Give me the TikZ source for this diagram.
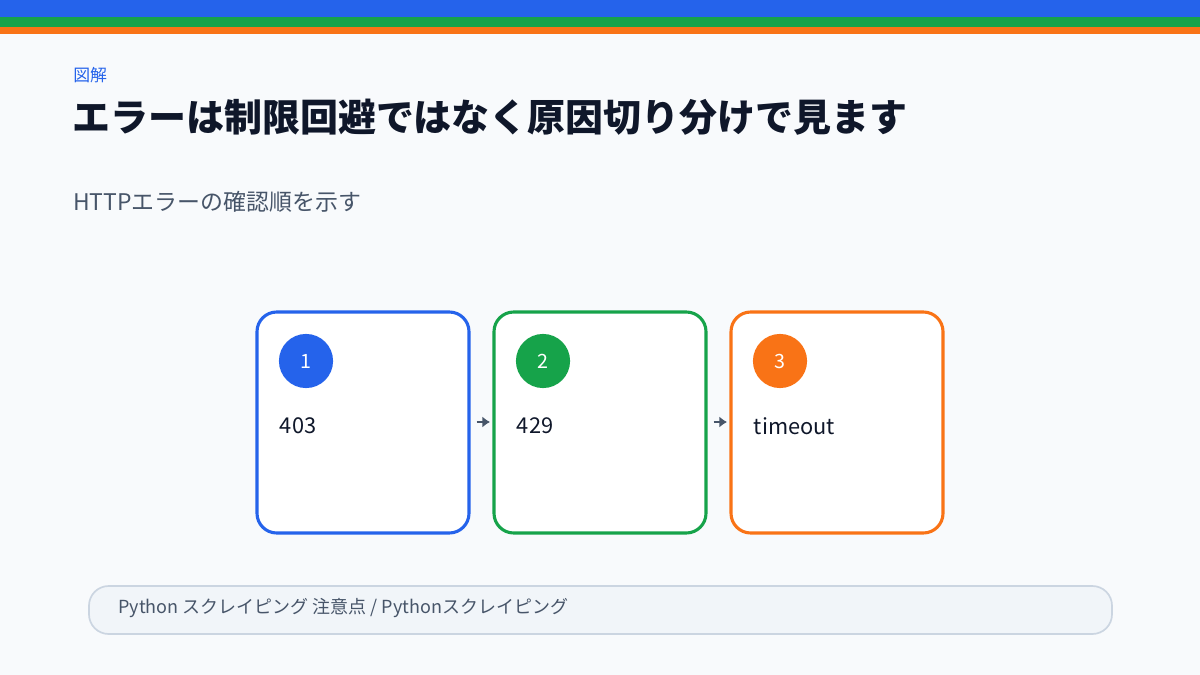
\documentclass[tikz,border=0pt]{standalone}
\usepackage{fontspec}
\setmainfont{Noto Sans CJK JP}
\usetikzlibrary{arrows.meta}
\usetikzlibrary{positioning}

\definecolor{bgcol}{HTML}{F8FAFC}
\definecolor{bluecol}{HTML}{2563EB}
\definecolor{greencol}{HTML}{16A34A}
\definecolor{orangecol}{HTML}{F97316}
\definecolor{inkcol}{HTML}{0F172A}
\definecolor{graycol}{HTML}{475569}
\definecolor{notecol}{HTML}{F1F5F9}
\definecolor{linecol}{HTML}{CBD5E1}

\begin{document}
\begin{tikzpicture}[x=0.025cm, y=-0.025cm,
    card/.style={draw=#1, line width=2.2pt, fill=white, rounded corners=14pt},
    badge/.style={circle, fill=#1, minimum size=38.5pt, inner sep=0pt,
        text=white, font=\fontsize{14}{14}\selectfont},
    cardtext/.style={anchor=west, text=inkcol, font=\fontsize{15.5}{16}\selectfont},
    link/.style={graycol, line width=2pt, -{Latex[length=5.5pt,width=8pt]},
        shorten <=5.5pt, shorten >=2.8pt}]
    \useasboundingbox (0, 0) rectangle (1200, 675); % page
    \fill[bgcol] (0, 0) rectangle (1200, 675);
    \fill[bluecol] (0, 0) rectangle (1200, 17);
    \fill[greencol] (0, 17) rectangle (1200, 27);
    \fill[orangecol] (0, 27) rectangle (1200, 34);

    \node[anchor=west, text=bluecol, font=\fontsize{12}{12}\selectfont, inner sep=0pt] (tag) at (73, 75) {図解};
    \node[anchor=west, text=inkcol, font=\fontsize{27}{28}\selectfont\bfseries, inner sep=0pt] (title) at (72, 117) {エラーは制限回避ではなく原因切り分けで見ます};
    \node[anchor=west, text=graycol, font=\fontsize{16.3}{17}\selectfont, inner sep=0pt] (sub) at (73, 202) {HTTPエラーの確認順を示す};

    \draw[card=bluecol] (257, 312) rectangle (469, 533);
    \draw[card=greencol] (494, 312) rectangle (706, 533);
    \draw[card=orangecol] (731, 312) rectangle (943, 533);
    \coordinate (e1) at (469, 422);
    \coordinate (c2) at (494, 422);
    \coordinate (e2) at (706, 422);
    \coordinate (c3) at (731, 422);

    \node[badge=bluecol] (n1) at (306, 361) {1};
    \node[badge=greencol] (n2) at (543, 361) {2};
    \node[badge=orangecol] (n3) at (780, 361) {3};
    \node[cardtext] (t1) at (275, 426) {403};
    \node[cardtext] (t2) at (512, 426) {429};
    \node[cardtext] (t3) at (749, 426) {timeout};

    \draw[link] (e1) -- (c2);
    \draw[link] (e2) -- (c3);

    \draw[draw=linecol, fill=notecol, line width=1.2pt, rounded corners=14pt] (89, 586) rectangle (1112, 634);
    \node[anchor=west, text=graycol, font=\fontsize{12.8}{13}\selectfont, inner sep=0pt] (note) at (118, 608) {Python スクレイピング 注意点 / Pythonスクレイピング};
\end{tikzpicture}
\end{document}
